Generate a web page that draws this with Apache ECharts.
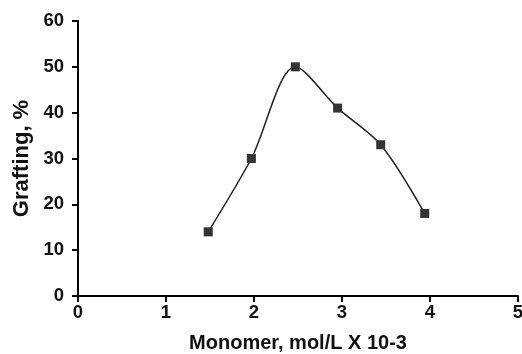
<!DOCTYPE html>
<html><head><meta charset="utf-8">
<script src="https://cdn.jsdelivr.net/npm/echarts@6/dist/echarts.min.js"></script>
<style>html,body{margin:0;padding:0;background:#fff}#c{width:522px;height:354px}</style>
</head><body><div id="c"></div>
<script>
const monomer = [1.48, 1.97, 2.47, 2.95, 3.44, 3.94];
const grafting = [14, 30, 50, 41, 33, 18];
const xTitle = 'Monomer, mol/L X 10-3';
const yTitle = 'Grafting, %';

const chart = echarts.init(document.getElementById('c'), null, {renderer: 'canvas'});
const fam = 'Liberation Sans, Arial, sans-serif';
const labelFont = {fontFamily: fam, fontSize: 18.5, fontWeight: 'bold', color: '#111'};
chart.setOption({
  animation: false,
  grid: {left: 78, right: 4, top: 21, bottom: 58, containLabel: false, outerBoundsMode: 'none'},
  xAxis: {
    type: 'value', min: 0, max: 5, interval: 1,
    name: xTitle, nameLocation: 'middle', nameGap: 37,
    nameTextStyle: {fontFamily: fam, fontSize: 20, fontWeight: 'bold', color: '#111'},
    axisLine: {show: true, lineStyle: {color: '#000', width: 2}},
    axisTick: {show: true, length: 6, lineStyle: {color: '#000', width: 2}},
    axisLabel: Object.assign({margin: 7}, labelFont),
    splitLine: {show: false}
  },
  yAxis: {
    type: 'value', min: 0, max: 60, interval: 10,
    name: yTitle, nameLocation: 'middle', nameGap: 44,
    nameTextStyle: {fontFamily: fam, fontSize: 22, fontWeight: 'bold', color: '#111'},
    axisLine: {show: true, lineStyle: {color: '#000', width: 2}},
    axisTick: {show: true, length: 6, lineStyle: {color: '#000', width: 2}},
    axisLabel: Object.assign({margin: 14}, labelFont),
    splitLine: {show: false}
  },
  series: [{
    type: 'line',
    data: monomer.map((x, i) => [x, grafting[i]]),
    smooth: 0.3,
    symbol: 'rect', symbolSize: 9,
    itemStyle: {color: '#333'},
    lineStyle: {color: '#222', width: 1.5}
  }]
});
</script></body></html>
